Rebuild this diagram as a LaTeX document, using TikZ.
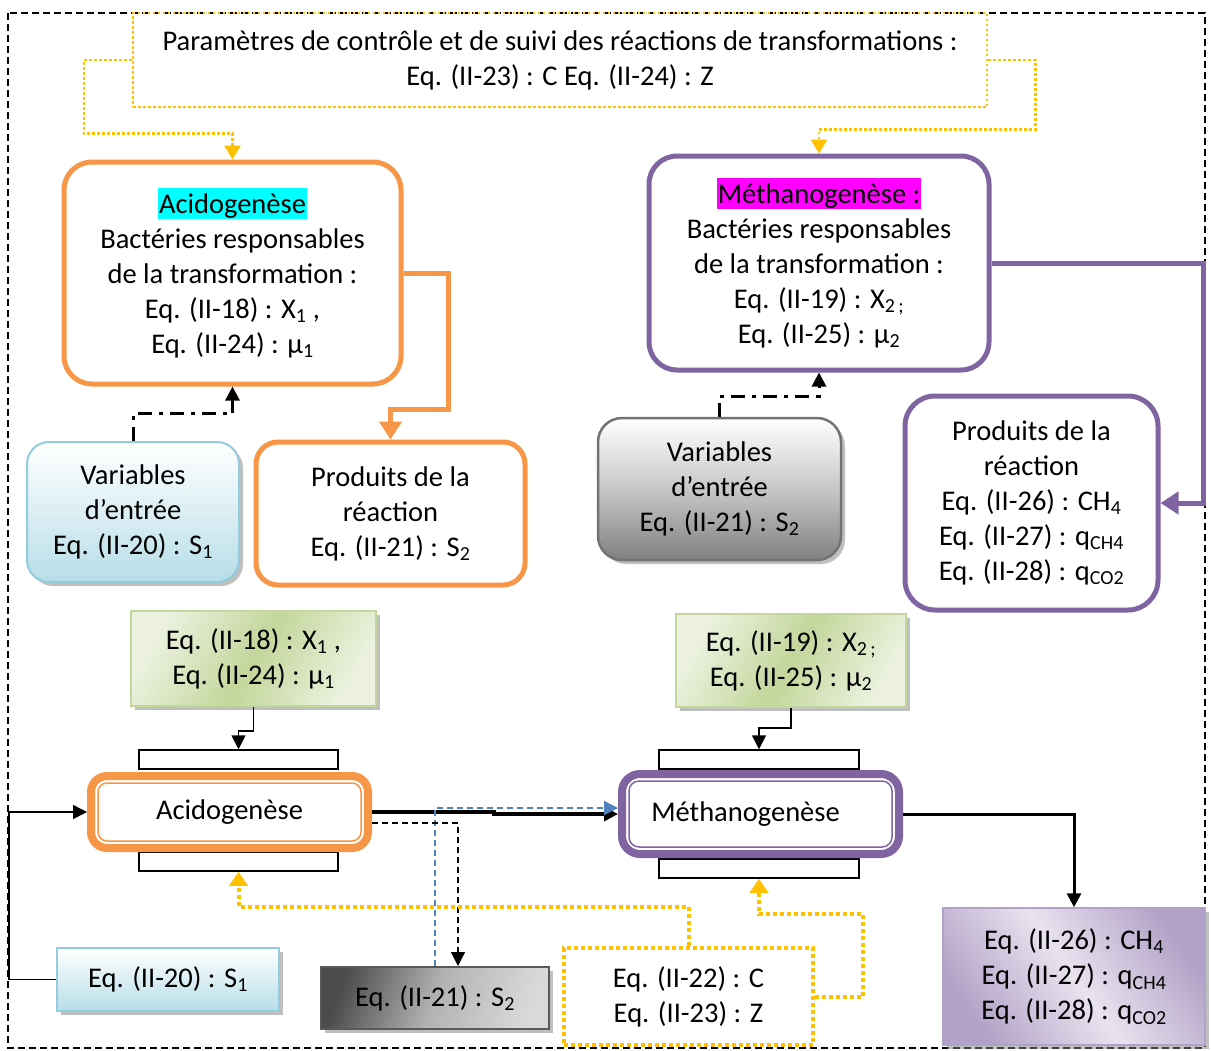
\documentclass[tikz,border=0pt]{standalone}
\usepackage{fontspec}
\setmainfont{Carlito}
\usetikzlibrary{arrows.meta,shadows,calc}
\definecolor{orng}{HTML}{F79646}
\definecolor{purp}{HTML}{8064A2}
\definecolor{ylw}{HTML}{FFC000}
\definecolor{bluL}{HTML}{B7DDE8}
\definecolor{bluB}{HTML}{93CDDD}
\definecolor{grnD}{HTML}{C3D69B}
\definecolor{grnL}{HTML}{EBF1DE}
\definecolor{grnB}{HTML}{C3D69B}
\definecolor{dblue}{HTML}{4F81BD}
\definecolor{lavL}{HTML}{E8E3EF}
\definecolor{lavD}{HTML}{B3A2C7}
\definecolor{hlcyan}{HTML}{00FFFF}
\definecolor{hlmag}{HTML}{FF00FF}
\newcommand\hlt[2]{{\setlength\fboxsep{1pt}\colorbox{#1}{\vphantom{Ég}#2}}}
\begin{document}
\begin{tikzpicture}[x=1pt,y=-1pt,
  font=\fontsize{28.5}{35}\selectfont,
  every node/.style={align=center, inner sep=0pt},
  sz/.style 2 args={minimum width=#1pt, minimum height=#2pt},
  shd/.style={drop shadow={shadow xshift=4pt,shadow yshift=-4pt,fill=black!50}},
  bigorange/.style={draw=orng, line width=5pt, rounded corners=28pt, fill=white},
  bigpurple/.style={draw=purp, line width=5pt, rounded corners=28pt, fill=white},
  thinrect/.style={draw=black, line width=1.5pt, fill=white},
  ar/.style={-{Triangle[length=14pt,width=14pt]}},
  ydot/.style={draw=ylw, line width=2.5pt, dash pattern=on 2.5pt off 2.5pt},
  ydotb/.style={draw=ylw, line width=4pt, dash pattern=on 4pt off 3pt},
  dashdotline/.style={line width=3pt, dash pattern=on 14pt off 7pt on 4pt off 7pt}
]
\useasboundingbox (0,0) rectangle (1213,1050);
\fill[white] (0,0) rectangle (1213,1050);
\draw[line width=1.2pt, dash pattern=on 7pt off 4pt] (8,13) rectangle (1205,1048);

% top box
\node[ydot, sz={854}{94}] (top) at (560,60)
  {Paramètres de contrôle et de suivi des réactions de transformations :\\ Eq. (II-23) : C Eq. (II-24) : Z};

% big boxes
\node[bigorange, sz={337}{222}] (acidbig) at (232.5,273)
  {\hlt{hlcyan}{Acidogenèse}\\ Bactéries responsables\\ de la transformation :\\ Eq. (II-18) : X\textsubscript{1} ,\\ Eq. (II-24) : µ\textsubscript{1}};
\node[bigpurple, sz={340}{214}] (methbig) at (819,263)
  {\hlt{hlmag}{Méthanogenèse :}\\ Bactéries responsables\\ de la transformation :\\ Eq. (II-19) : X\textsubscript{2\,;}\\ Eq. (II-25) : µ\textsubscript{2}};

\node[shd, draw=bluB, line width=2pt, rounded corners=22pt, top color=white, bottom color=bluL, sz={212}{140}] (var1) at (133,512)
  {Variables\\ d’entrée\\ Eq. (II-20) : S\textsubscript{1}};
\node[bigorange, rounded corners=22pt, sz={269}{143}] (prod1) at (390.5,513.5)
  {Produits de la\\ réaction\\ Eq. (II-21) : S\textsubscript{2}};
\node[shd, draw=black!55, line width=2.5pt, rounded corners=24pt, top color=white, bottom color=black!50, middle color=black!22, sz={243}{142}] (var2) at (719.5,489)
  {Variables\\ d’entrée\\ Eq. (II-21) : S\textsubscript{2}};
\node[bigpurple, rounded corners=30pt, sz={253}{214}] (prod2) at (1031.5,503)
  {Produits de la\\ réaction\\ Eq. (II-26) : CH\textsubscript{4}\\ Eq. (II-27) : q\textsubscript{CH4}\\ Eq. (II-28) : q\textsubscript{CO2}};

% lower section
\node[shd, draw=grnB, line width=1.5pt, left color=grnL, right color=grnL, middle color=grnD, shading angle=60, sz={245}{95}] (g1) at (253.5,658.5)
  {Eq. (II-18) : X\textsubscript{1} ,\\ Eq. (II-24) : µ\textsubscript{1}};
\node[shd, draw=grnB, line width=1.5pt, left color=grnL, right color=grnL, middle color=grnD, shading angle=60, sz={230}{93}] (g2) at (791,660.5)
  {Eq. (II-19) : X\textsubscript{2\,;}\\ Eq. (II-25) : µ\textsubscript{2}};

\node[thinrect, sz={199}{19}] (a1) at (238.5,759.5) {};
\node[thinrect, sz={199}{19}] (a2) at (238.5,861.5) {};
\node[thinrect, sz={200}{19}] (m1) at (759,759.5) {};
\node[thinrect, sz={200}{19}] (m2) at (759,868.5) {};

\node[draw=orng, line width=8pt, rounded corners=16pt, fill=white, sz={277}{72}] (acid) at (229.5,812) {Acidogenèse};
\draw[orng, line width=1.5pt, rounded corners=9pt] ([xshift=11pt,yshift=-11pt]acid.north west) rectangle ([xshift=-11pt,yshift=11pt]acid.south east);
\node[draw=purp, line width=8pt, rounded corners=18pt, fill=white, sz={277}{80}] (meth) at (760.5,814) {Méthanogenèse\hspace*{30pt}};
\draw[purp, line width=1.5pt, rounded corners=10pt] ([xshift=11pt,yshift=-11pt]meth.north west) rectangle ([xshift=-11pt,yshift=11pt]meth.south east);

\node[shd, draw=bluB, line width=2pt, top color=white, bottom color=bluL, sz={222}{63}] (s1) at (168,979.5) {Eq. (II-20) : S\textsubscript{1}};
\node[shd, draw=black!65, line width=2pt, left color=black!70, right color=black!15, middle color=black!30, shading angle=70, sz={228}{62}] (s2) at (435,998) {Eq. (II-21) : S\textsubscript{2}};
\node[ydotb, fill=white, sz={249}{97}] (cz) at (688.5,996.5) {Eq. (II-22) : C\\ Eq. (II-23) : Z};
\node[shd, draw=lavD, line width=1.5pt, left color=lavD, right color=lavD, middle color=lavL, shading angle=125, sz={262}{137}] (pb) at (1074,976.5)
  {Eq. (II-26) : CH\textsubscript{4}\\ Eq. (II-27) : q\textsubscript{CH4}\\ Eq. (II-28) : q\textsubscript{CO2}};

% connectors (upper)
\draw[ydot, -{Triangle[length=14pt,width=16pt]}, ylw] (top.west) -- ++(-48,0) |- ([yshift=26pt]acidbig.north) -- (acidbig.north);
\draw[ydot, -{Triangle[length=14pt,width=16pt]}, ylw] (top.east) -- ++(47,0) |- ([yshift=24pt]methbig.north) -- (methbig.north);
\draw[orng, line width=5pt, -{Triangle[length=18pt,width=22pt]}] (acidbig.east) -- ++(45,0) |- ([yshift=30pt]prod1.north) -- (prod1.north);
\draw[purp, line width=5pt, -{Triangle[length=18pt,width=22pt]}] (methbig.east) -- ++(212,0) |- (prod2.east);
\draw[dashdotline, ar] (var1.north) |- ([yshift=-27pt]acidbig.south) -- (acidbig.south);
\draw[dashdotline, ar] (var2.north) |- ([yshift=-24pt]methbig.south) -- (methbig.south);

% connectors (lower)
\draw[line width=1.5pt, ar] (g1.south) -- ++(0,24) -| (a1.north);
\draw[line width=1.5pt, ar] (g2.south) -- ++(0,20) -| (m1.north);
\draw[line width=3.5pt, ar] (acid.east) -- (494,812) -- (494,814) -- (meth.west);
\draw[dblue, line width=1.5pt, dash pattern=on 6pt off 4pt, -{Triangle[length=14pt,width=14pt]}] (s2.north) |- ([yshift=6pt]meth.west);
\draw[line width=1.5pt, dash pattern=on 6pt off 4pt, ar] ([yshift=-11pt]acid.east) -| ([xshift=23pt]s2.north);
\draw[line width=1.5pt, ar] (s1.west) -- ++(-47,0) |- (acid.west);
\draw[ydotb, -{Triangle[length=14pt,width=18pt]}, ylw] (cz.north) -- ++(0,-39) -| (a2.south);
\draw[ydotb, -{Triangle[length=14pt,width=18pt]}, ylw] (cz.east) -- ++(48,0) |- ([yshift=-35pt]m2.south) -- (m2.south);
\draw[line width=3pt, ar] (meth.east) -| (pb.north);
\end{tikzpicture}
\end{document}
